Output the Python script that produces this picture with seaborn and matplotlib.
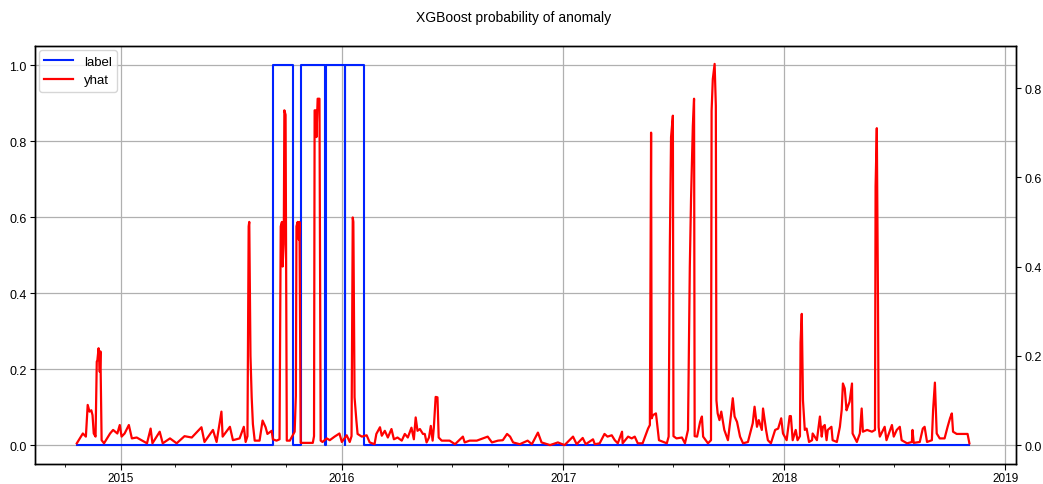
import matplotlib
matplotlib.use("Agg")
import matplotlib.pyplot as plt
import matplotlib.dates as mdates
import seaborn as sns
import pandas as pd

# ---- data ----
label_dates = ["2014-10-20", "2015-09-10", "2015-10-13", "2015-10-25", "2015-12-04",
               "2015-12-05", "2016-01-06", "2016-01-07", "2016-02-06", "2018-11-02"]
label_vals = [0, 1, 0, 1, 0, 1, 0, 1, 0, 0]

yhat_dates = [
    "2014-10-20", "2014-10-30", "2014-11-04", "2014-11-07", "2014-11-10", "2014-11-13",
    "2014-11-15", "2014-11-17", "2014-11-20", "2014-11-22", "2014-11-23", "2014-11-25",
    "2014-11-27", "2014-11-28", "2014-11-30", "2014-12-04", "2014-12-14", "2014-12-19",
    "2014-12-26", "2014-12-30", "2015-01-02", "2015-01-07", "2015-01-14", "2015-01-19",
    "2015-01-27", "2015-02-04", "2015-02-13", "2015-02-19", "2015-02-22", "2015-03-06",
    "2015-03-11", "2015-03-23", "2015-04-03", "2015-04-16", "2015-04-28", "2015-05-14",
    "2015-05-19", "2015-06-02", "2015-06-08", "2015-06-16", "2015-06-18", "2015-06-30",
    "2015-07-05", "2015-07-16", "2015-07-23", "2015-07-26", "2015-07-29", "2015-07-31",
    "2015-08-01", "2015-08-03", "2015-08-05", "2015-08-07", "2015-08-10", "2015-08-18",
    "2015-08-23", "2015-08-28", "2015-08-31", "2015-09-07", "2015-09-09", "2015-09-15",
    "2015-09-20", "2015-09-22", "2015-09-24", "2015-09-25", "2015-09-27", "2015-09-28",
    "2015-09-30", "2015-10-02", "2015-10-07", "2015-10-15", "2015-10-17", "2015-10-18",
    "2015-10-20", "2015-10-22", "2015-10-23", "2015-10-25", "2015-11-14", "2015-11-16",
    "2015-11-17", "2015-11-19", "2015-11-20", "2015-11-22", "2015-11-25", "2015-11-27",
    "2015-11-30", "2015-12-07", "2015-12-12", "2015-12-20", "2015-12-28", "2016-01-01",
    "2016-01-09", "2016-01-14", "2016-01-17", "2016-01-19", "2016-01-20", "2016-01-22",
    "2016-01-25", "2016-01-27", "2016-02-03", "2016-02-11", "2016-02-16", "2016-02-24",
    "2016-02-27", "2016-03-04", "2016-03-07", "2016-03-12", "2016-03-17", "2016-03-23",
    "2016-03-27", "2016-04-02", "2016-04-09", "2016-04-14", "2016-04-19", "2016-04-25",
    "2016-04-29", "2016-05-02", "2016-05-05", "2016-05-09", "2016-05-14", "2016-05-17",
    "2016-05-20", "2016-05-24", "2016-05-27", "2016-05-30", "2016-06-01", "2016-06-04",
    "2016-06-07", "2016-06-09", "2016-06-14", "2016-06-27", "2016-07-06", "2016-07-19",
    "2016-07-22", "2016-07-30", "2016-08-11", "2016-08-29", "2016-09-05", "2016-09-15",
    "2016-09-23", "2016-09-30", "2016-10-05", "2016-10-10", "2016-10-21", "2016-11-03",
    "2016-11-10", "2016-11-20", "2016-11-26", "2016-12-10", "2016-12-23", "2017-01-03",
    "2017-01-17", "2017-01-23", "2017-02-02", "2017-02-07", "2017-02-19", "2017-02-22",
    "2017-03-02", "2017-03-10", "2017-03-15", "2017-03-22", "2017-03-27", "2017-04-01",
    "2017-04-08", "2017-04-09", "2017-04-18", "2017-04-24", "2017-04-29", "2017-05-04",
    "2017-05-12", "2017-05-21", "2017-05-24", "2017-05-26", "2017-05-27", "2017-05-29",
    "2017-06-03", "2017-06-04", "2017-06-08", "2017-06-21", "2017-06-24", "2017-06-26",
    "2017-06-28", "2017-07-01", "2017-07-02", "2017-07-07", "2017-07-16", "2017-07-21",
    "2017-07-26", "2017-07-29", "2017-07-31", "2017-08-03", "2017-08-05", "2017-08-06",
    "2017-08-10", "2017-08-15", "2017-08-18", "2017-08-20", "2017-08-28", "2017-09-02",
    "2017-09-03", "2017-09-05", "2017-09-08", "2017-09-10", "2017-09-11", "2017-09-13",
    "2017-09-16", "2017-09-19", "2017-09-24", "2017-09-30", "2017-10-05", "2017-10-08",
    "2017-10-11", "2017-10-15", "2017-10-20", "2017-10-25", "2017-11-02", "2017-11-10",
    "2017-11-13", "2017-11-17", "2017-11-20", "2017-11-25", "2017-11-27", "2017-12-02",
    "2017-12-05", "2017-12-10", "2017-12-17", "2017-12-22", "2017-12-27", "2017-12-30",
    "2018-01-05", "2018-01-10", "2018-01-12", "2018-01-15", "2018-01-20", "2018-01-23",
    "2018-01-27", "2018-01-28", "2018-01-30", "2018-02-01", "2018-02-04", "2018-02-07",
    "2018-02-11", "2018-02-16", "2018-02-17", "2018-02-24", "2018-03-01", "2018-03-04",
    "2018-03-06", "2018-03-09", "2018-03-12", "2018-03-14", "2018-03-20", "2018-03-22",
    "2018-03-29", "2018-04-03", "2018-04-06", "2018-04-08", "2018-04-11", "2018-04-14",
    "2018-04-16", "2018-04-19", "2018-04-23", "2018-04-24", "2018-05-01", "2018-05-06",
    "2018-05-09", "2018-05-11", "2018-05-18", "2018-05-26", "2018-05-31", "2018-06-01",
    "2018-06-03", "2018-06-05", "2018-06-06", "2018-06-08", "2018-06-16", "2018-06-19",
    "2018-06-24", "2018-06-28", "2018-07-01", "2018-07-06", "2018-07-11", "2018-07-14",
    "2018-07-23", "2018-07-31", "2018-08-01", "2018-08-03", "2018-08-13", "2018-08-18",
    "2018-08-21", "2018-08-25", "2018-09-02", "2018-09-04", "2018-09-07", "2018-09-10",
    "2018-09-15", "2018-09-23", "2018-09-28", "2018-10-02", "2018-10-05", "2018-10-07",
    "2018-10-13", "2018-10-31", "2018-11-03",
]
yhat_vals = [
    0.004, 0.026, 0.019, 0.090, 0.075, 0.078,
    0.067, 0.026, 0.019, 0.187, 0.190, 0.217,
    0.164, 0.210, 0.011, 0.004, 0.026, 0.034,
    0.026, 0.045, 0.019, 0.026, 0.045, 0.015,
    0.017, 0.011, 0.004, 0.037, 0.004, 0.030,
    0.004, 0.015, 0.004, 0.020, 0.017, 0.040,
    0.007, 0.034, 0.007, 0.075, 0.019, 0.041,
    0.011, 0.015, 0.041, 0.007, 0.020, 0.490,
    0.500, 0.200, 0.107, 0.047, 0.010, 0.010,
    0.055, 0.040, 0.025, 0.032, 0.013, 0.010,
    0.013, 0.490, 0.500, 0.400, 0.450, 0.750,
    0.740, 0.010, 0.010, 0.030, 0.110, 0.490,
    0.500, 0.460, 0.500, 0.005, 0.005, 0.020,
    0.750, 0.750, 0.690, 0.776, 0.776, 0.010,
    0.007, 0.015, 0.011, 0.019, 0.026, 0.007,
    0.022, 0.007, 0.020, 0.510, 0.500, 0.107,
    0.055, 0.025, 0.019, 0.022, 0.006, 0.002,
    0.025, 0.040, 0.021, 0.032, 0.017, 0.036,
    0.013, 0.017, 0.010, 0.025, 0.017, 0.039,
    0.013, 0.062, 0.032, 0.036, 0.025, 0.025,
    0.006, 0.017, 0.043, 0.010, 0.039, 0.108,
    0.107, 0.017, 0.010, 0.010, 0.002, 0.019,
    0.006, 0.010, 0.010, 0.019, 0.006, 0.010,
    0.011, 0.025, 0.019, 0.006, 0.002, 0.010,
    0.002, 0.028, 0.006, 0.000, 0.006, 0.000,
    0.019, 0.002, 0.016, 0.002, 0.013, 0.002,
    0.004, 0.025, 0.019, 0.022, 0.011, 0.004,
    0.030, 0.004, 0.019, 0.015, 0.019, 0.004,
    0.004, 0.037, 0.045, 0.700, 0.060, 0.067,
    0.071, 0.060, 0.011, 0.004, 0.019, 0.444,
    0.690, 0.738, 0.020, 0.015, 0.017, 0.004,
    0.034, 0.400, 0.550, 0.715, 0.776, 0.020,
    0.019, 0.052, 0.064, 0.019, 0.004, 0.011,
    0.749, 0.820, 0.854, 0.760, 0.100, 0.071,
    0.056, 0.075, 0.034, 0.011, 0.067, 0.105,
    0.064, 0.052, 0.019, 0.004, 0.007, 0.049,
    0.086, 0.041, 0.056, 0.034, 0.082, 0.034,
    0.011, 0.004, 0.034, 0.037, 0.060, 0.026,
    0.011, 0.065, 0.065, 0.011, 0.034, 0.011,
    0.020, 0.230, 0.294, 0.100, 0.034, 0.037,
    0.007, 0.011, 0.026, 0.011, 0.064, 0.019,
    0.041, 0.045, 0.011, 0.034, 0.041, 0.011,
    0.007, 0.041, 0.079, 0.138, 0.127, 0.078,
    0.086, 0.097, 0.138, 0.026, 0.007, 0.026,
    0.082, 0.030, 0.034, 0.030, 0.034, 0.580,
    0.710, 0.310, 0.040, 0.019, 0.041, 0.011,
    0.030, 0.045, 0.019, 0.034, 0.041, 0.011,
    0.004, 0.007, 0.034, 0.005, 0.007, 0.037,
    0.041, 0.007, 0.011, 0.078, 0.140, 0.026,
    0.015, 0.015, 0.041, 0.060, 0.071, 0.030,
    0.025, 0.025, 0.004,
]

title = "XGBoost probability of anomaly"

# ---- plot ----
plt.rcParams["font.family"] = ["Liberation Sans", "DejaVu Sans"]
plt.rcParams["font.size"] = 9

label_df = pd.DataFrame({"date": pd.to_datetime(label_dates), "label": label_vals})
yhat_df = pd.DataFrame({"date": pd.to_datetime(yhat_dates), "yhat": yhat_vals})

fig = plt.figure(figsize=(10.43, 4.85), dpi=100)
ax = fig.add_axes([0.0336, 0.041, 0.9405, 0.862])
ax2 = ax.twinx()

sns.lineplot(data=label_df, x="date", y="label", ax=ax, color="#0022ff", lw=1.5,
             drawstyle="steps-post", estimator=None, label="label", legend=False)
sns.lineplot(data=yhat_df, x="date", y="yhat", ax=ax2, color="#ff0000", lw=1.6,
             estimator=None, label="yhat", legend=False)

ax.set_ylim(-0.05, 1.05)
ax2.set_ylim(-0.0426, 0.894)
ax.set_yticks([0.0, 0.2, 0.4, 0.6, 0.8, 1.0])
ax2.set_yticks([0.0, 0.2, 0.4, 0.6, 0.8])
ax.set_xlim(pd.Timestamp("2014-08-12"), pd.Timestamp("2019-01-19"))

ax.xaxis.set_major_locator(mdates.YearLocator())
ax.xaxis.set_major_formatter(mdates.DateFormatter("%Y"))
ax.xaxis.set_minor_locator(mdates.MonthLocator(bymonth=[1, 4, 7, 10]))
ax.tick_params(axis="x", which="major", length=4, pad=1.5, labelsize=8.5)
ax.tick_params(axis="x", which="minor", length=2.5)
ax.tick_params(axis="y", length=3.5, pad=2.5, labelsize=9)
ax2.tick_params(axis="y", length=3.5, pad=2.5, labelsize=9)

ax.set_xlabel("")
ax.set_ylabel("")
ax2.set_ylabel("")
ax.grid(True, color="#b0b0b0", lw=0.9)

for a in (ax, ax2):
    for s in a.spines.values():
        s.set_color("black")
        s.set_linewidth(1.0)

h1, l1 = ax.get_legend_handles_labels()
h2, l2 = ax2.get_legend_handles_labels()
ax.legend(h1 + h2, l1 + l2, loc="upper left", fontsize=9.5, framealpha=0.8,
          borderaxespad=0.3, handlelength=2.2)

fig.text(0.492, 0.963, title, ha="center", va="center", fontsize=10)

fig.savefig("out.png", dpi=100)
